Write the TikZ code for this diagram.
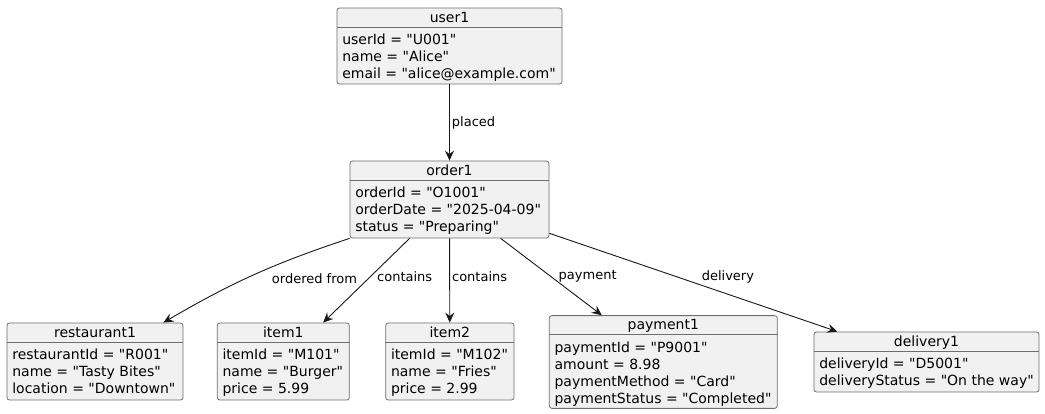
\documentclass[tikz,border=0pt]{standalone}
\usepackage{fontspec}
\setmainfont[Ligatures=TeXOff]{DejaVu Sans}
\usetikzlibrary{arrows.meta,calc}
\definecolor{objfill}{HTML}{F1F1F1}
\definecolor{objedge}{HTML}{6E6E6E}
\definecolor{objline}{HTML}{181818}
\begin{document}
\begin{tikzpicture}[x=1pt,y=-1pt,every node/.style={text=black},obj/.style={draw=objedge,fill=objfill,line width=.8pt,rounded corners=2.5pt,inner sep=0pt},sep/.style={objedge,line width=.8pt},ttl/.style={font=\fontsize{14}{17}\selectfont,anchor=base,inner sep=0pt},attr/.style={font=\fontsize{14}{17}\selectfont,align=left,anchor=north west,inner sep=0pt},rel/.style={objline,line width=.9pt,-{Stealth[length=10pt,width=9pt,inset=3.5pt]}},lbl/.style={font=\fontsize{13}{15}\selectfont,inner sep=2pt}]
\useasboundingbox (0,0) rectangle (1045,414);
\fill[white] (0,0) rectangle (1045,414);
% objects
\node[obj,minimum width=225pt,minimum height=76pt] (user1) at (449.5,46){};\draw[sep] ($(user1.north west)+(0,19.5)$)--($(user1.north east)+(0,19.5)$);
\node[ttl] (user1t) at ($(user1.north)+(0,14.5)$){user1};\node[attr] (user1a) at ($(user1.north west)+(5.5,26.5)$){userId = "U001"\\name = "Alice"\\email = "alice@example.com"};
\node[obj,minimum width=199pt,minimum height=77pt] (order1) at (449.5,199.5){};\draw[sep] ($(order1.north west)+(0,19.5)$)--($(order1.north east)+(0,19.5)$);
\node[ttl] (order1t) at ($(order1.north)+(0,14.5)$){order1};\node[attr] (order1a) at ($(order1.north west)+(5.5,26.5)$){orderId = "O1001"\\orderDate = "2025-04-09"\\status = "Preparing"};
\node[obj,minimum width=176pt,minimum height=77pt] (restaurant1) at (95,361.5){};\draw[sep] ($(restaurant1.north west)+(0,19.5)$)--($(restaurant1.north east)+(0,19.5)$);
\node[ttl] (restaurant1t) at ($(restaurant1.north)+(0,14.5)$){restaurant1};\node[attr] (restaurant1a) at ($(restaurant1.north west)+(5.5,26.5)$){restaurantId = "R001"\\name = "Tasty Bites"\\location = "Downtown"};
\node[obj,minimum width=132pt,minimum height=77pt] (item1) at (283.3,361.5){};\draw[sep] ($(item1.north west)+(0,19.5)$)--($(item1.north east)+(0,19.5)$);
\node[ttl] (item1t) at ($(item1.north)+(0,14.5)$){item1};\node[attr] (item1a) at ($(item1.north west)+(5.5,26.5)$){itemId = "M101"\\name = "Burger"\\price = 5.99};
\node[obj,minimum width=128.3pt,minimum height=77pt] (item2) at (449.85,361.5){};\draw[sep] ($(item2.north west)+(0,19.5)$)--($(item2.north east)+(0,19.5)$);
\node[ttl] (item2t) at ($(item2.north)+(0,14.5)$){item2};\node[attr] (item2a) at ($(item2.north west)+(5.5,26.5)$){itemId = "M102"\\name = "Fries"\\price = 2.99};
\node[obj,minimum width=228pt,minimum height=92.7pt] (payment1) at (663.3,362){};\draw[sep] ($(payment1.north west)+(0,19.5)$)--($(payment1.north east)+(0,19.5)$);
\node[ttl] (payment1t) at ($(payment1.north)+(0,14.5)$){payment1};\node[attr] (payment1a) at ($(payment1.north west)+(5.5,26.5)$){paymentId = "P9001"\\amount = 8.98\\paymentMethod = "Card"\\paymentStatus = "Completed"};
\node[obj,minimum width=225pt,minimum height=60pt] (delivery1) at (926.5,362){};\draw[sep] ($(delivery1.north west)+(0,19.5)$)--($(delivery1.north east)+(0,19.5)$);
\node[ttl] (delivery1t) at ($(delivery1.north)+(0,14.5)$){delivery1};\node[attr] (delivery1a) at ($(delivery1.north west)+(5.5,26.5)$){deliveryId = "D5001"\\deliveryStatus = "On the way"};
% links
\draw[rel] (user1)--(order1) node[lbl,pos=.5,anchor=west] (placedl){placed};
\draw[rel] (order1.south west) to[bend right=6] node[lbl,pos=.45,anchor=north west,xshift=7pt] (orderedl){ordered from} ([xshift=-20pt]restaurant1.north east);
\draw[rel] (order1)--(item1) node[lbl,pos=.45,anchor=west,xshift=4pt] (contains1l){contains};
\draw[rel] (order1)--(item2) node[lbl,pos=.45,anchor=west] (contains2l){contains};
\draw[rel] (order1)--(payment1) node[lbl,pos=.49,anchor=west,xshift=6pt] (paymentl){payment};
\draw[rel] (order1)--(delivery1) node[lbl,pos=.62,anchor=south,yshift=9pt] (deliveryl){delivery};
\end{tikzpicture}
\end{document}
